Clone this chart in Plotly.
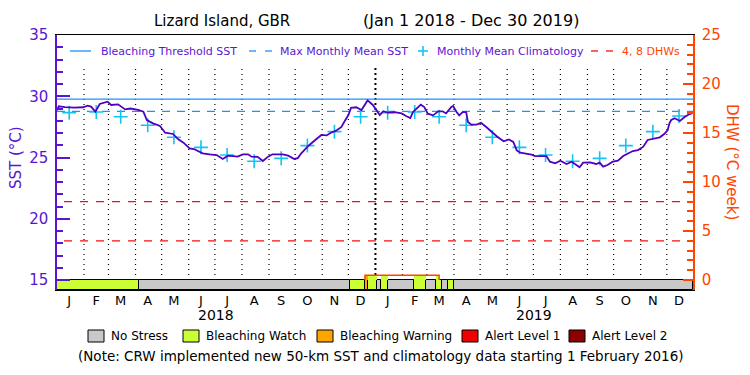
import plotly.graph_objects as go
import pandas as pd

# ---------------- data ----------------
sst_dates = [
    '2018-01-01', '2018-01-03', '2018-01-10', '2018-01-21', '2018-01-31', '2018-02-05', '2018-02-09',
    '2018-02-14', '2018-02-19', '2018-02-28', '2018-03-04', '2018-03-12', '2018-03-20', '2018-03-26',
    '2018-04-04', '2018-04-10', '2018-04-14', '2018-04-21', '2018-04-29', '2018-05-05', '2018-05-14',
    '2018-05-20', '2018-05-26', '2018-06-02', '2018-06-07', '2018-06-17', '2018-06-25', '2018-07-03',
    '2018-07-10', '2018-07-16', '2018-07-27', '2018-08-02', '2018-08-08', '2018-08-12', '2018-08-19',
    '2018-08-25', '2018-08-31', '2018-09-05', '2018-09-17', '2018-09-23', '2018-09-30', '2018-10-04',
    '2018-10-08', '2018-10-16', '2018-10-23', '2018-10-31', '2018-11-06', '2018-11-11', '2018-11-17',
    '2018-11-23', '2018-11-27', '2018-12-01', '2018-12-04', '2018-12-10', '2018-12-16', '2018-12-20',
    '2018-12-23', '2018-12-29', '2019-01-04', '2019-01-06', '2019-01-10', '2019-01-15', '2019-01-23',
    '2019-01-31', '2019-02-05', '2019-02-10', '2019-02-13', '2019-02-19', '2019-02-22', '2019-02-26',
    '2019-03-02', '2019-03-08', '2019-03-14', '2019-03-19', '2019-03-23', '2019-03-29', '2019-03-31',
    '2019-04-04', '2019-04-07', '2019-04-11', '2019-04-15', '2019-04-17', '2019-04-21', '2019-04-27',
    '2019-05-02', '2019-05-08', '2019-05-14', '2019-05-21', '2019-05-28', '2019-06-03', '2019-06-08',
    '2019-06-12', '2019-06-16', '2019-06-23', '2019-06-29', '2019-07-03', '2019-07-16', '2019-07-20',
    '2019-07-26', '2019-08-01', '2019-08-08', '2019-08-14', '2019-08-18', '2019-08-23', '2019-08-27',
    '2019-09-04', '2019-09-11', '2019-09-15', '2019-09-19', '2019-09-24', '2019-09-30', '2019-10-06',
    '2019-10-12', '2019-10-17', '2019-10-23', '2019-10-29', '2019-11-04', '2019-11-09', '2019-11-15',
    '2019-11-23', '2019-11-28', '2019-12-02', '2019-12-04', '2019-12-06', '2019-12-10', '2019-12-16',
    '2019-12-21', '2019-12-27', '2019-12-30',
]
sst_values = [
    28.85, 29.18, 29.12, 29.07, 29.10, 29.23, 29.15,
    28.74, 29.37, 29.56, 29.29, 29.34, 28.93, 29.00,
    28.88, 28.74, 28.06, 27.79, 27.57, 27.02, 26.92,
    26.48, 26.21, 25.75, 25.69, 25.34, 25.26, 25.20,
    24.88, 25.15, 25.07, 25.26, 25.26, 25.07, 25.05,
    24.71, 25.07, 25.26, 25.26, 25.15, 24.88, 24.95,
    25.34, 25.94, 26.37, 26.84, 26.80, 27.02, 27.19,
    27.50, 28.00, 28.47, 29.05, 29.10, 28.88, 29.31,
    29.66, 29.29, 28.70, 28.47, 28.78, 28.66, 28.71,
    28.60, 28.39, 28.22, 28.71, 29.12, 29.31, 29.12,
    28.58, 28.44, 28.77, 28.77, 28.60, 29.12, 29.20,
    28.71, 28.44, 28.71, 28.70, 27.90, 27.68, 27.68,
    27.84, 27.49, 27.08, 26.67, 26.32, 26.48, 26.27,
    25.58, 25.39, 25.31, 25.23, 25.12, 25.12, 24.66,
    24.52, 24.74, 24.47, 24.66, 24.47, 24.20, 24.58,
    24.60, 24.47, 24.58, 24.25, 24.39, 24.66, 24.75,
    25.12, 25.29, 25.53, 25.61, 25.88, 26.43, 26.51,
    26.65, 26.92, 27.24, 27.79, 28.06, 28.20, 27.98,
    28.28, 28.55, 28.60,
]

clim_dates = ['2018-01-15', '2018-02-15', '2018-03-15', '2018-04-15', '2018-05-15', '2018-06-15',
              '2018-07-15', '2018-08-15', '2018-09-15', '2018-10-15', '2018-11-15', '2018-12-15',
              '2019-01-15', '2019-02-15', '2019-03-15', '2019-04-15', '2019-05-15', '2019-06-15',
              '2019-07-15', '2019-08-15', '2019-09-15', '2019-10-15', '2019-11-15', '2019-12-15']
clim_values = [28.66, 28.71, 28.33, 27.63, 26.65, 25.83, 25.20, 24.69, 24.93, 25.97, 27.11, 28.33,
               28.66, 28.71, 28.33, 27.63, 26.65, 25.83, 25.20, 24.69, 24.93, 25.97, 27.11, 28.39]

mmm_sst = 28.77
bleaching_threshold = 29.77
dhw_levels = [4, 8]

dhw_dates = ['2018-12-20', '2018-12-20', '2019-03-15', '2019-03-15']
dhw_values = [0.0, 0.48, 0.48, 0.0]

seg_start = ['2018-01-01', '2018-04-05', '2018-12-03', '2018-12-20', '2018-12-23', '2019-01-03', '2019-01-07',
             '2019-01-15', '2019-02-14', '2019-02-28', '2019-03-11', '2019-03-18', '2019-03-25', '2019-04-01']
seg_end = ['2018-04-05', '2018-12-03', '2018-12-20', '2018-12-23', '2019-01-03', '2019-01-07', '2019-01-15',
           '2019-02-14', '2019-02-28', '2019-03-11', '2019-03-18', '2019-03-25', '2019-04-01', '2019-12-31']
seg_level = [1, 0, 1, 2, 1, 0, 1, 0, 1, 0, 1, 0, 1, 0]

stress_names = ['No Stress', 'Bleaching Watch', 'Bleaching Warning', 'Alert Level 1', 'Alert Level 2']
stress_colors = ['#c8c8c8', '#ccff33', '#ffa500', '#f00000', '#8b0000']

month_letters = ['J', 'F', 'M', 'A', 'M', 'J', 'J', 'A', 'S', 'O', 'N', 'D']
years = ['2018', '2019']

x_start, x_end = '2018-01-01', '2019-12-31'

# ---------------- styling ----------------
PURPLE = '#5a14d2'
LINEPURPLE = '#5000c0'
ORANGE = '#ff4500'
BLUE = '#1e90ff'
CYAN = '#14c3f5'
RED = '#f01010'
FONT = 'DejaVu Sans, Liberation Sans, Arial, sans-serif'

# layout geometry (pixels of the 750x375 page)
L, R, T, B = 57, 693, 35, 290
STRIP = 10  # px height of stress strip
px_per_sst = (280 - 35) / 20.0
y_min = 15 - STRIP / px_per_sst
y2_min = (y_min - 15) * 1.25


def pxx(X):
    return (X - L) / (R - L)


def pxy(Y):
    return (B - Y) / (B - T)


fig = go.Figure()

# month boundary dotted lines
mstarts = pd.date_range('2018-02-01', '2019-12-01', freq='MS')
vx, vy = [], []
for d in mstarts:
    if d == pd.Timestamp('2019-01-01'):
        continue
    ds = d.strftime('%Y-%m-%d')
    vx += [ds, ds, None]
    vy += [15, 32.55, None]
fig.add_trace(go.Scatter(x=vx, y=vy, mode='lines', line=dict(color='black', width=1.2, dash='1px,4px'),
                         connectgaps=False, hoverinfo='skip', showlegend=False))
fig.add_trace(go.Scatter(x=['2019-01-01', '2019-01-01'], y=[15, 32.55], mode='lines',
                         line=dict(color='black', width=2, dash='2px,3px'), hoverinfo='skip', showlegend=False))

# threshold & MMM
fig.add_trace(go.Scatter(x=[x_start, x_end], y=[bleaching_threshold] * 2, mode='lines',
                         line=dict(color=BLUE, width=1.3), showlegend=False))
fig.add_trace(go.Scatter(x=[x_start, x_end], y=[mmm_sst] * 2, mode='lines',
                         line=dict(color=BLUE, width=1.3, dash='8px,7px'), showlegend=False))
# DHW reference lines
for lev in dhw_levels:
    fig.add_trace(go.Scatter(x=['2018-01-09', x_end], y=[lev, lev], yaxis='y2', mode='lines',
                             line=dict(color=RED, width=1.3, dash='8px,8px'), showlegend=False))

# stress strip
dh_s = pd.Timestamp(dhw_dates[0])
dh_e = pd.Timestamp(dhw_dates[-1])
dh_peak = max(dhw_values)
for lev in range(5):
    xs, ws = [], []
    cx, cw = [], []
    for s, e, l in zip(seg_start, seg_end, seg_level):
        if l != lev:
            continue
        s_, e_ = pd.Timestamp(s), pd.Timestamp(e)
        xs.append((s_ + (e_ - s_) / 2).isoformat())
        ws.append((e_ - s_).total_seconds() * 1000)
        if lev > 0:
            os_, oe_ = max(s_, dh_s), min(e_, dh_e)
            if oe_ > os_:
                cx.append((os_ + (oe_ - os_) / 2).isoformat())
                cw.append((oe_ - os_).total_seconds() * 1000)
    if xs:
        fig.add_trace(go.Bar(x=xs, y=[-y2_min] * len(xs), base=y2_min, width=ws, yaxis='y2',
                             marker=dict(color=stress_colors[lev], line=dict(color='black', width=1)),
                             showlegend=False))
    if cx:
        fig.add_trace(go.Bar(x=cx, y=[dh_peak] * len(cx), base=0, width=cw, yaxis='y2',
                             marker=dict(color=stress_colors[lev], line=dict(width=0)), showlegend=False))

# DHW trace
fig.add_trace(go.Scatter(x=dhw_dates, y=dhw_values, yaxis='y2', mode='lines',
                         line=dict(color=ORANGE, width=1.5), showlegend=False))

# climatology
fig.add_trace(go.Scatter(x=clim_dates, y=clim_values, mode='markers',
                         marker=dict(symbol='cross-thin', size=10, line=dict(color=CYAN, width=1.6)),
                         showlegend=False))
# SST
fig.add_trace(go.Scatter(x=sst_dates, y=sst_values, mode='lines',
                         line=dict(color=LINEPURPLE, width=1.8), showlegend=False))

mid_months = [d.strftime('%Y-%m-%d') for d in
              pd.date_range('2018-01-01', '2019-12-01', freq='MS') + pd.Timedelta(days=14)]
ticktext = month_letters * 2

ann = []
shapes = []
# title
ann.append(dict(text='Lizard Island, GBR', x=pxx(152), y=pxy(21), xref='paper', yref='paper',
                xanchor='left', yanchor='middle', showarrow=False, font=dict(size=15, color='black')))
ann.append(dict(text='(Jan 1 2018 - Dec 30 2019)', x=pxx(471), y=pxy(21), xref='paper', yref='paper',
                xanchor='center', yanchor='middle', showarrow=False, font=dict(size=16, color='black')))
# axis titles
ann.append(dict(text='SST (°C)', x=pxx(16), y=pxy(158), xref='paper', yref='paper', textangle=-90,
                xanchor='center', yanchor='middle', showarrow=False, font=dict(size=15, color=PURPLE)))
ann.append(dict(text='DHW (°C week)', x=pxx(732), y=pxy(162), xref='paper', yref='paper', textangle=90,
                xanchor='center', yanchor='middle', showarrow=False, font=dict(size=15, color=ORANGE)))
# year labels
for i, yr in enumerate(years):
    ann.append(dict(text=yr, x=f'{yr}-07-02', y=pxy(315), xref='x', yref='paper', xanchor='center',
                    yanchor='middle', showarrow=False, font=dict(size=14, color='black')))
# top legend
leg_y = pxy(51)
shapes.append(dict(type='line', xref='paper', yref='paper', x0=pxx(70), x1=pxx(91), y0=leg_y, y1=leg_y,
                   line=dict(color=BLUE, width=1.3)))
for a, b in [(249, 256), (265, 272)]:
    shapes.append(dict(type='line', xref='paper', yref='paper', x0=pxx(a), x1=pxx(b), y0=leg_y, y1=leg_y,
                       line=dict(color=BLUE, width=1.3)))
shapes.append(dict(type='line', xref='paper', yref='paper', x0=pxx(418), x1=pxx(428), y0=leg_y, y1=leg_y,
                   line=dict(color=CYAN, width=1.6)))
shapes.append(dict(type='line', xref='paper', yref='paper', x0=pxx(423), x1=pxx(423), y0=pxy(46), y1=pxy(56),
                   line=dict(color=CYAN, width=1.6)))
for a, b in [(591, 598), (606, 613)]:
    shapes.append(dict(type='line', xref='paper', yref='paper', x0=pxx(a), x1=pxx(b), y0=leg_y, y1=leg_y,
                       line=dict(color=RED, width=1.3)))
for txt, X, col in [('Bleaching Threshold SST', 99, PURPLE), ('Max Monthly Mean SST', 278, PURPLE),
                    ('Monthly Mean Climatology', 435, PURPLE), ('4, 8 DHWs', 620, ORANGE)]:
    ann.append(dict(text=txt, x=pxx(X), y=leg_y, xref='paper', yref='paper', xanchor='left', yanchor='middle',
                    showarrow=False, font=dict(size=11, color=col)))
# bottom legend
box_x = [88, 183, 317, 462, 569]
for name, col, X in zip(stress_names, stress_colors, box_x):
    shapes.append(dict(type='rect', xref='paper', yref='paper', x0=pxx(X), x1=pxx(X + 16), y0=pxy(342),
                       y1=pxy(330), fillcolor=col, line=dict(color='black', width=1)))
    ann.append(dict(text=name, x=pxx(X + 21), y=pxy(336), xref='paper', yref='paper', xanchor='left',
                    yanchor='middle', showarrow=False, font=dict(size=12, color='black')))
ann.append(dict(text='(Note: CRW implemented new 50-km SST and climatology data starting 1 February 2016)',
                x=pxx(381), y=pxy(356), xref='paper', yref='paper', xanchor='center', yanchor='middle',
                showarrow=False, font=dict(size=13.5, color='black')))

fig.update_layout(
    width=750, height=375,
    margin=dict(l=L, r=750 - R, t=T, b=375 - B, pad=0, autoexpand=False),
    paper_bgcolor='white', plot_bgcolor='white',
    font=dict(family=FONT, size=14, color='black'),
    barmode='overlay', bargap=0,
    showlegend=False,
    xaxis=dict(type='date', range=[x_start, x_end], showgrid=False, zeroline=False, automargin=False,
               showline=True, linecolor='black', linewidth=1, mirror=True,
               tickmode='array', tickvals=mid_months, ticktext=ticktext, ticks='',
               ticklabelstandoff=-2, tickfont=dict(size=13, color='black')),
    yaxis=dict(range=[y_min, 35], showgrid=False, zeroline=False, showline=True, linecolor=PURPLE,
               automargin=False,
               linewidth=1.5, tickmode='array', tickvals=[15, 20, 25, 30, 35], ticks='inside', ticklen=13,
               tickcolor=PURPLE, tickwidth=1.5, tickfont=dict(size=15, color=PURPLE), ticklabelstandoff=4,
               minor=dict(tickmode='array', tickvals=[v for v in range(16, 35) if v % 5], ticks='inside',
                          ticklen=6, tickcolor=PURPLE, tickwidth=1.5)),
    yaxis2=dict(range=[y2_min, 25], overlaying='y', side='right', showgrid=False, zeroline=False,
                automargin=False,
                showline=True, linecolor=ORANGE, linewidth=1.5, tickmode='array', tickvals=[0, 5, 10, 15, 20, 25],
                ticks='inside', ticklen=10, tickcolor=ORANGE, tickwidth=1.5,
                tickfont=dict(size=15, color=ORANGE), ticklabelstandoff=4,
                minor=dict(tickmode='array', tickvals=[v for v in range(1, 25) if v % 5], ticks='inside',
                           ticklen=6, tickcolor=ORANGE, tickwidth=1.5)),
    annotations=ann, shapes=shapes,
)

fig.write_html('out.html', config={'displayModeBar': False},
               post_script="document.body.style.margin='0px';document.body.style.padding='0px';")
